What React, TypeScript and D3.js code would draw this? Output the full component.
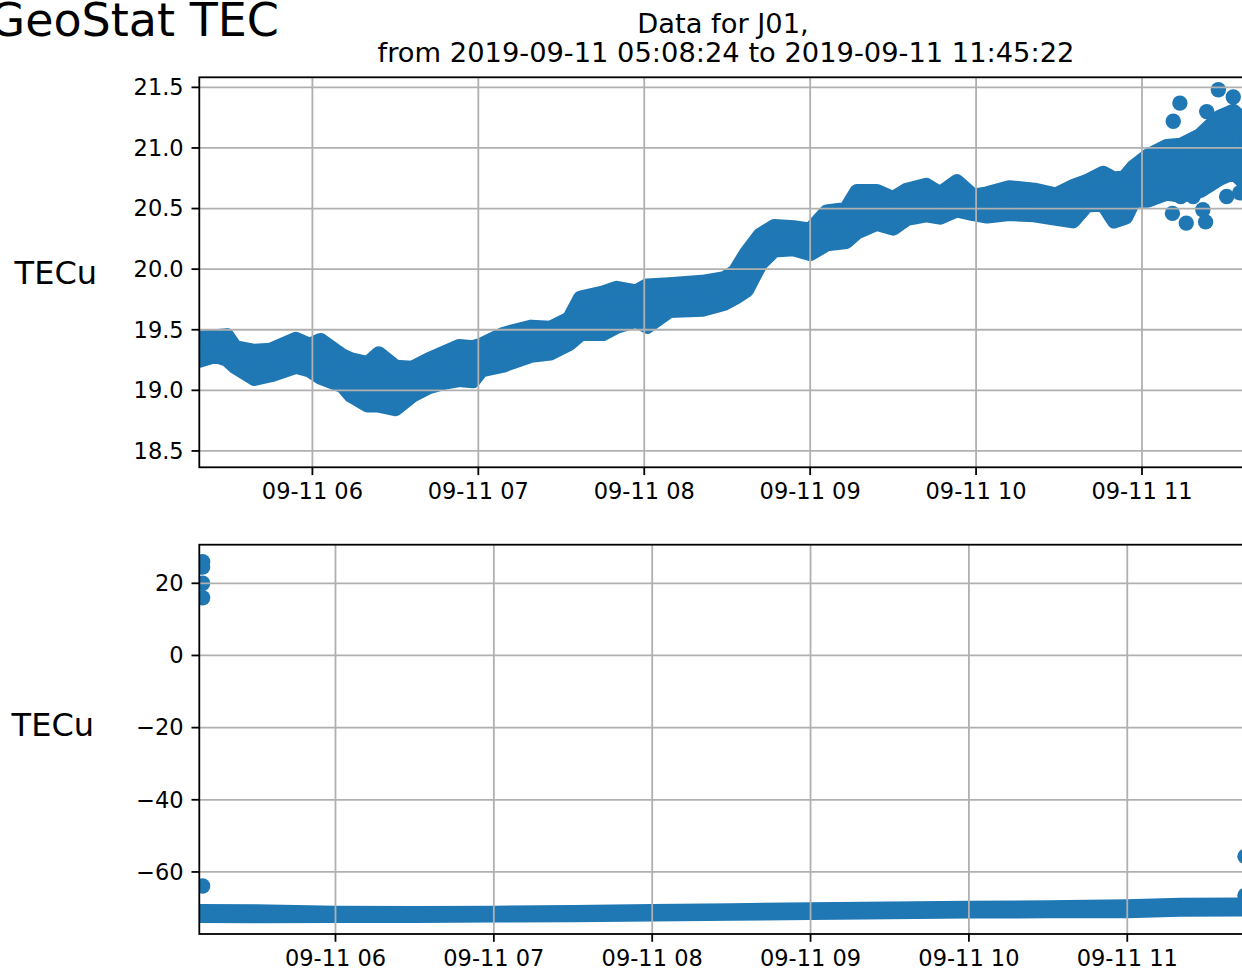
import React from 'react';
import * as d3 from 'd3';

// upper plot: dense TEC band, read as upper / lower centre of the point cloud
const topTimes = [
  '05:19:06', '05:25', '05:29', '05:32', '05:39', '05:45', '05:54', '05:59', '06:03', '06:11',
  '06:14', '06:20', '06:24', '06:30', '06:36', '06:42', '06:48', '06:53', '06:58', '07:01',
  '07:09', '07:19', '07:26', '07:33', '07:37', '07:45', '07:50', '07:57', '08:01', '08:09',
  '08:21', '08:29', '08:33', '08:37', '08:42', '08:47', '08:54', '09:00', '09:06', '09:13',
  '09:17', '09:24', '09:30', '09:35', '09:42', '09:47', '09:53', '09:59', '10:04', '10:12',
  '10:21', '10:29', '10:35', '10:40', '10:46', '10:50', '10:54', '10:57', '11:02', '11:09',
  '11:14', '11:21', '11:28', '11:33', '11:38',
];
const topUpper = [
  19.43, 19.44, 19.45, 19.35, 19.32, 19.33, 19.42, 19.37, 19.41, 19.28,
  19.25, 19.22, 19.30, 19.19, 19.18, 19.25, 19.31, 19.36, 19.35, 19.37,
  19.46, 19.52, 19.51, 19.59, 19.76, 19.80, 19.84, 19.81, 19.86, 19.87,
  19.89, 19.92, 19.98, 20.13, 20.28, 20.35, 20.34, 20.32, 20.47, 20.49,
  20.64, 20.64, 20.58, 20.65, 20.69, 20.62, 20.72, 20.60, 20.62, 20.67,
  20.65, 20.61, 20.68, 20.72, 20.79, 20.74, 20.76, 20.84, 20.93, 21.01,
  21.02, 21.10, 21.25, 21.30, 21.20,
];
const topLower = [
  19.25, 19.29, 19.26, 19.20, 19.10, 19.13, 19.20, 19.17, 19.11, 19.04,
  18.96, 18.88, 18.88, 18.85, 18.96, 19.03, 19.07, 19.09, 19.08, 19.17,
  19.21, 19.29, 19.31, 19.39, 19.47, 19.47, 19.53, 19.58, 19.53, 19.66,
  19.67, 19.72, 19.77, 19.83, 20.05, 20.16, 20.17, 20.13, 20.21, 20.23,
  20.31, 20.38, 20.34, 20.42, 20.45, 20.43, 20.49, 20.46, 20.44, 20.46,
  20.45, 20.42, 20.40, 20.53, 20.54, 20.40, 20.43, 20.57, 20.57, 20.63,
  20.61, 20.65, 20.75, 20.80, 20.70,
];
// scattered points at the end of the upper plot
const topSpotTimes = [
  '11:11:18', '11:13:42', '11:23:24', '11:27:36', '11:33:00', '11:30:00', '11:11:00',
  '11:16:00', '11:23:00', '11:22:00', '11:14:00', '11:18:30', '11:30:36', '11:35:24',
];
const topSpotValues = [
  21.22, 21.37, 21.30, 21.48, 21.42, 21.09, 20.46,
  20.38, 20.39, 20.49, 20.60, 20.60, 20.60, 20.63,
];

// lower plot
const bottomTimes = [
  '05:08:24', '05:30', '06:00', '06:30', '07:00', '07:30', '08:00', '08:30',
  '09:00', '09:30', '10:00', '10:30', '11:00', '11:20', '11:45:22',
];
const bottomUpper = [-71.0, -71.1, -71.5, -71.6, -71.5, -71.3, -71.0, -70.8, -70.5, -70.3, -70.1, -70.0, -69.7, -69.3, -69.2];
const bottomLower = [-72.0, -72.1, -72.0, -72.0, -71.9, -71.8, -71.6, -71.4, -71.2, -71.0, -70.8, -70.7, -70.7, -70.3, -70.2];
const bottomSpotTimes = ['05:09:40', '05:09:40', '05:09:40', '05:09:40', '05:09:40', '11:44:36', '11:44:36', '11:44:50'];
const bottomSpotValues = [26.0, 24.5, 20.0, 16.0, -63.9, -55.7, -66.5, -68.0];

const topTicks = [18.5, 19.0, 19.5, 20.0, 20.5, 21.0, 21.5];
const bottomTicks = [-60, -40, -20, 0, 20];

const day = '2019-09-11';
const parseFull = d3.timeParse('%Y-%m-%d %H:%M:%S');
const parseShort = d3.timeParse('%Y-%m-%d %H:%M');
const toDate = (s: string) => (s.length > 5 ? parseFull(`${day} ${s}`) : parseShort(`${day} ${s}`)) as Date;

const blue = '#1f77b4';
const grid = '#b0b0b0';
const font = '"DejaVu Sans", sans-serif';
const r = 7.7;
const tickLen = 7.8;
const tickFont = 22.5;

type Row = { t: Date; hi: number; lo: number };

function Panel(props: {
  id: string;
  top: number;
  bottom: number;
  xDomain: [Date, Date];
  yDomain: [number, number];
  yTicks: number[];
  yFormat: (v: number) => string;
  rows: Row[];
  spots: { t: Date; v: number }[];
  labelY: number;
  labelX: number;
}) {
  const { id, top, bottom, xDomain, yDomain, yTicks, yFormat, rows, spots, labelY, labelX } = props;
  const left = 199.3;
  const right = 1247;
  const x = d3.scaleTime().domain(xDomain).range([left, right]);
  const y = d3.scaleLinear().domain(yDomain).range([bottom, top]);
  const xTicks = x.ticks(d3.timeHour.every(1) as d3.TimeInterval);
  const fmt = d3.timeFormat('%m-%d %H');

  const area = d3.area<Row>()
    .x(d => x(d.t))
    .y0(d => y(d.lo))
    .y1(d => y(d.hi));

  return (
    <g>
      <defs>
        <clipPath id={id}>
          <rect x={left} y={top} width={right - left} height={bottom - top} />
        </clipPath>
      </defs>
      <g clipPath={`url(#${id})`}>
        <path d={area(rows) || ''} fill={blue} stroke={blue} strokeWidth={2 * r} strokeLinejoin="round" />
        {spots.map((s, i) => (
          <circle key={i} cx={x(s.t)} cy={y(s.v)} r={r} fill={blue} />
        ))}
      </g>
      {xTicks.map((t, i) => (
        <line key={'gx' + i} x1={x(t)} x2={x(t)} y1={top} y2={bottom} stroke={grid} strokeWidth={1.8} />
      ))}
      {yTicks.map((v, i) => (
        <line key={'gy' + i} x1={left} x2={right} y1={y(v)} y2={y(v)} stroke={grid} strokeWidth={1.8} />
      ))}
      <rect x={left} y={top} width={right - left} height={bottom - top} fill="none" stroke="#000" strokeWidth={1.8} />
      {xTicks.map((t, i) => (
        <g key={'tx' + i}>
          <line x1={x(t)} x2={x(t)} y1={bottom} y2={bottom + tickLen} stroke="#000" strokeWidth={1.8} />
          <text x={x(t)} y={bottom + 2 * tickLen + 16} textAnchor="middle" fontSize={tickFont} fontFamily={font} fill="#000">
            {fmt(t)}
          </text>
        </g>
      ))}
      {yTicks.map((v, i) => (
        <g key={'ty' + i}>
          <line x1={left - tickLen} x2={left} y1={y(v)} y2={y(v)} stroke="#000" strokeWidth={1.8} />
          <text x={left - 2 * tickLen} y={y(v) + 7.8} textAnchor="end" fontSize={tickFont} fontFamily={font} fill="#000">
            {yFormat(v)}
          </text>
        </g>
      ))}
      <text x={labelX} y={labelY} textAnchor="end" fontSize={32} fontFamily={font} fill="#000">TECu</text>
    </g>
  );
}

export default function App() {
  const topRows: Row[] = topTimes.map((t, i) => ({ t: toDate(t), hi: topUpper[i], lo: topLower[i] }));
  const bottomRows: Row[] = bottomTimes.map((t, i) => ({ t: toDate(t), hi: bottomUpper[i], lo: bottomLower[i] }));
  const topSpots = topSpotTimes.map((t, i) => ({ t: toDate(t), v: topSpotValues[i] }));
  const bottomSpots = bottomSpotTimes.map((t, i) => ({ t: toDate(t), v: bottomSpotValues[i] }));

  return (
    <div style={{ position: 'absolute', left: 0, top: 0 }}>
      <svg width={1242} height={972} style={{ display: 'block', background: '#fff' }}>
        <text x={279} y={36} textAnchor="end" fontSize={46} fontFamily={font} fill="#000">GeoStat TEC</text>
        <text x={723} y={33} textAnchor="middle" fontSize={27.3} fontFamily={font} fill="#000">Data for J01,</text>
        <text x={726} y={62} textAnchor="middle" fontSize={27.3} fontFamily={font} fill="#000">
          from 2019-09-11 05:08:24 to 2019-09-11 11:45:22
        </text>
        <Panel
          id="clip-top"
          top={77.3}
          bottom={467.3}
          xDomain={[toDate('05:19:06'), toDate('11:37:58')]}
          yDomain={[18.365, 21.583]}
          yTicks={topTicks}
          yFormat={d3.format('.1f')}
          rows={topRows}
          spots={topSpots}
          labelX={97}
          labelY={284}
        />
        <Panel
          id="clip-bottom"
          top={544.7}
          bottom={934}
          xDomain={[toDate('05:08:24'), toDate('11:45:22')]}
          yDomain={[-77.2, 30.7]}
          yTicks={bottomTicks}
          yFormat={d3.format('d')}
          rows={bottomRows}
          spots={bottomSpots}
          labelX={94}
          labelY={736}
        />
      </svg>
    </div>
  );
}
